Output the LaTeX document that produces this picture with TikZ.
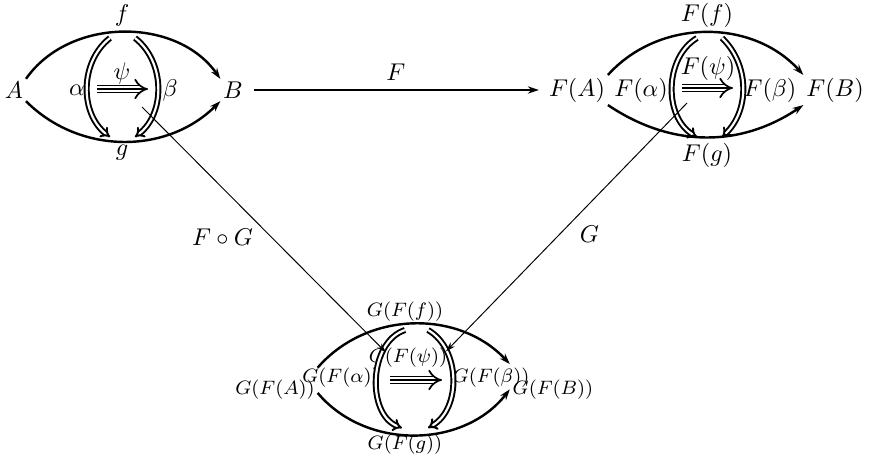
\documentclass[tikz,border=0pt]{standalone}
\usepackage{amsmath,amssymb}
\usepackage{tikz}
\usetikzlibrary{arrows.meta}

\begin{document}
\begin{tikzpicture}[x=0.0145cm,y=-0.0145cm,
		obj/.style={inner sep=1pt},
		small/.style={font=\footnotesize},
		cell/.style={line width=1pt,-{Stealth[length=4.5pt,width=3pt]}},
		twocell/.style={double,line width=0.8pt,double distance=0.9pt,-{Implies[length=2.5pt]}},
		threecell/.style={double,line width=0.7pt,double distance=2.2pt,-{Implies}},
		threemid/.style={line width=0.7pt,shorten >=1.5pt},
		functor/.style={line width=0.8pt,-{Stealth[length=4.5pt,width=3pt]}},
		conn/.style={line width=0.4pt,-{Stealth[length=4pt,width=2.5pt]}}]
	
	\useasboundingbox (0,0) rectangle (872,461);
	
	% first 2-cell
	\node[obj] (A) at (14,90) {$A$};
	\node[obj] (B) at (233,90) {$B$};
	\node (f) at (122,15) {$f$};
	\node (g) at (122,153) {$g$};
	\node (al) at (77,90) {$\alpha$};
	\node (be) at (170,90) {$\beta$};
	\node (psi) at (122,73) {$\psi$};
	
	\draw[cell] (A.north east) to[bend left=55] (B.north west);
	\draw[cell] (A.south east) to[bend right=45] (B.south west);
	
	\coordinate (a0) at (110,38);
	\coordinate (a1) at (110,137);
	\coordinate (b0) at (135,38);
	\coordinate (b1) at (135,137);
	\draw[twocell] (a0) to[bend right=52] (a1);
	\draw[twocell] (b0) to[bend left=52] (b1);
	
	\coordinate (p0) at (97,89);
	\coordinate (p1) at (148,89);
	\draw[threecell] (p0) -- (p1);
	\draw[threemid] (p0) -- (p1);
	
	% image under F
	\node[obj] (FA) at (577,90) {$F(A)$};
	\node[obj] (FB) at (835,90) {$F(B)$};
	\node (Ff) at (707,15) {$F(f)$};
	\node (Fg) at (707,155) {$F(g)$};
	\node (Fal) at (641,90) {$F(\alpha)$};
	\node (Fbe) at (770,90) {$F(\beta)$};
	\node (Fpsi) at (708,68) {$F(\psi)$};
	
	\draw[cell] (FA.north east) to[bend left=48] (FB.north west);
	\draw[cell] (FA.south east) to[bend right=34] (FB.south west);
	
	\coordinate (fa0) at (697,38);
	\coordinate (fa1) at (697,137);
	\coordinate (fb0) at (722,38);
	\coordinate (fb1) at (722,137);
	\draw[twocell] (fa0) to[bend right=59] (fa1);
	\draw[twocell] (fb0) to[bend left=46] (fb1);
	
	\coordinate (fp0) at (682,88);
	\coordinate (fp1) at (733,88);
	\draw[threecell] (fp0) -- (fp1);
	\draw[threemid] (fp0) -- (fp1);
	
	% image under G
	\node[obj,small] (GFA) at (275,390) {$G(F(A))$};
	\node[obj,small] (GFB) at (553,390) {$G(F(B))$};
	\node[small] (GFf) at (405,312) {$G(F(f))$};
	\node[small] (GFg) at (405,445) {$G(F(g))$};
	\node[small] (GFal) at (341,378) {$G(F(\alpha))$};
	\node[small] (GFbe) at (491,378) {$G(F(\beta))$};
	\node[obj,small] (GFpsi) at (408,358) {$G(F(\psi))$};
	
	\draw[cell] ([yshift=4pt]GFA.north east) to[bend left=48] ([yshift=5.5pt]GFB.north west);
	\draw[cell] ([yshift=4pt]GFA.south east) to[bend right=51] ([yshift=5.5pt]GFB.south west);
	
	\coordinate (ga0) at (405,330);
	\coordinate (ga1) at (402,428);
	\coordinate (gb0) at (428,330);
	\coordinate (gb1) at (428,428);
	\draw[twocell] (ga0) to[bend right=70] (ga1);
	\draw[twocell] (gb0) to[bend left=60] (gb1);
	
	\coordinate (gp0) at (390,380);
	\coordinate (gp1) at (442,380);
	\draw[threecell] (gp0) -- (gp1);
	\draw[threemid] (gp0) -- (gp1);
	
	% functors
	\draw[functor,shorten <=3.5pt,shorten >=3pt] (B) -- (FA) node[midway,above] {$F$};
	
	\coordinate (s1) at (142,107);
	\coordinate (s2) at (687,103);
	\draw[conn] (s1) -- ([shift={(20,7)}]GFpsi.north west) node[pos=0.53,left=4pt] {$F\circ G$};
	\draw[conn] (s2) -- ([shift={(-4,6)}]GFpsi.north east) node[pos=0.53,right=5pt] {$G$};
	
\end{tikzpicture}
\end{document}
